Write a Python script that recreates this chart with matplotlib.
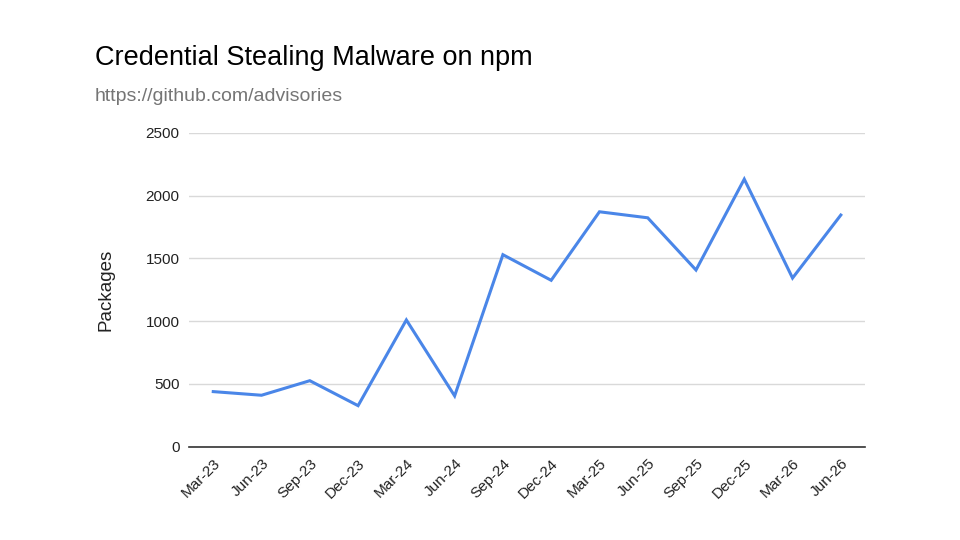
import matplotlib
matplotlib.use("Agg")
from matplotlib import pyplot as plt

plt.rcParams['font.family'] = ['Liberation Sans', 'DejaVu Sans']

quarters = ["Mar-23", "Jun-23", "Sep-23", "Dec-23", "Mar-24", "Jun-24", "Sep-24",
            "Dec-24", "Mar-25", "Jun-25", "Sep-25", "Dec-25", "Mar-26", "Jun-26"]
packages = [438, 409, 525, 326, 1009, 404, 1529,
            1325, 1871, 1823, 1407, 2131, 1343, 1845]
y_ticks = [0, 500, 1000, 1500, 2000, 2500]

fig = plt.figure(figsize=(9.6, 5.4), dpi=100)
ax = fig.add_axes([0.197, 0.173, 0.704, 0.581])

x = list(range(len(quarters)))
ax.plot(x, packages, color="#4a86e8", linewidth=2.2, solid_joinstyle="miter")

ax.set_xlim(-0.5, len(quarters) - 0.5)
ax.set_ylim(0, 2500)
ax.set_yticks(y_ticks)
ax.set_yticklabels([str(v) for v in y_ticks], fontsize=11, color="#222222")
ax.set_xticks(x)
ax.set_xticklabels(quarters, rotation=45, ha="right", rotation_mode="anchor",
                   fontsize=11, color="#222222")
ax.tick_params(length=0, pad=7)
ax.tick_params(axis="x", pad=7)

ax.grid(axis="y", color="#d9d9d9", linewidth=1)
ax.set_axisbelow(True)
for side in ["top", "right", "left"]:
    ax.spines[side].set_visible(False)
ax.spines["bottom"].set_color("#333333")
ax.spines["bottom"].set_linewidth(1.2)

ax.set_ylabel("Packages", fontsize=13.5, color="#222222", labelpad=22)

fig.text(0.099, 0.892, "Credential Stealing Malware on npm", fontsize=19.5,
         color="#000000", va="center", ha="left")
fig.text(0.099, 0.822, "https://github.com/advisories", fontsize=14,
         color="#757575", va="center", ha="left")

fig.savefig("out.png", dpi=100)
